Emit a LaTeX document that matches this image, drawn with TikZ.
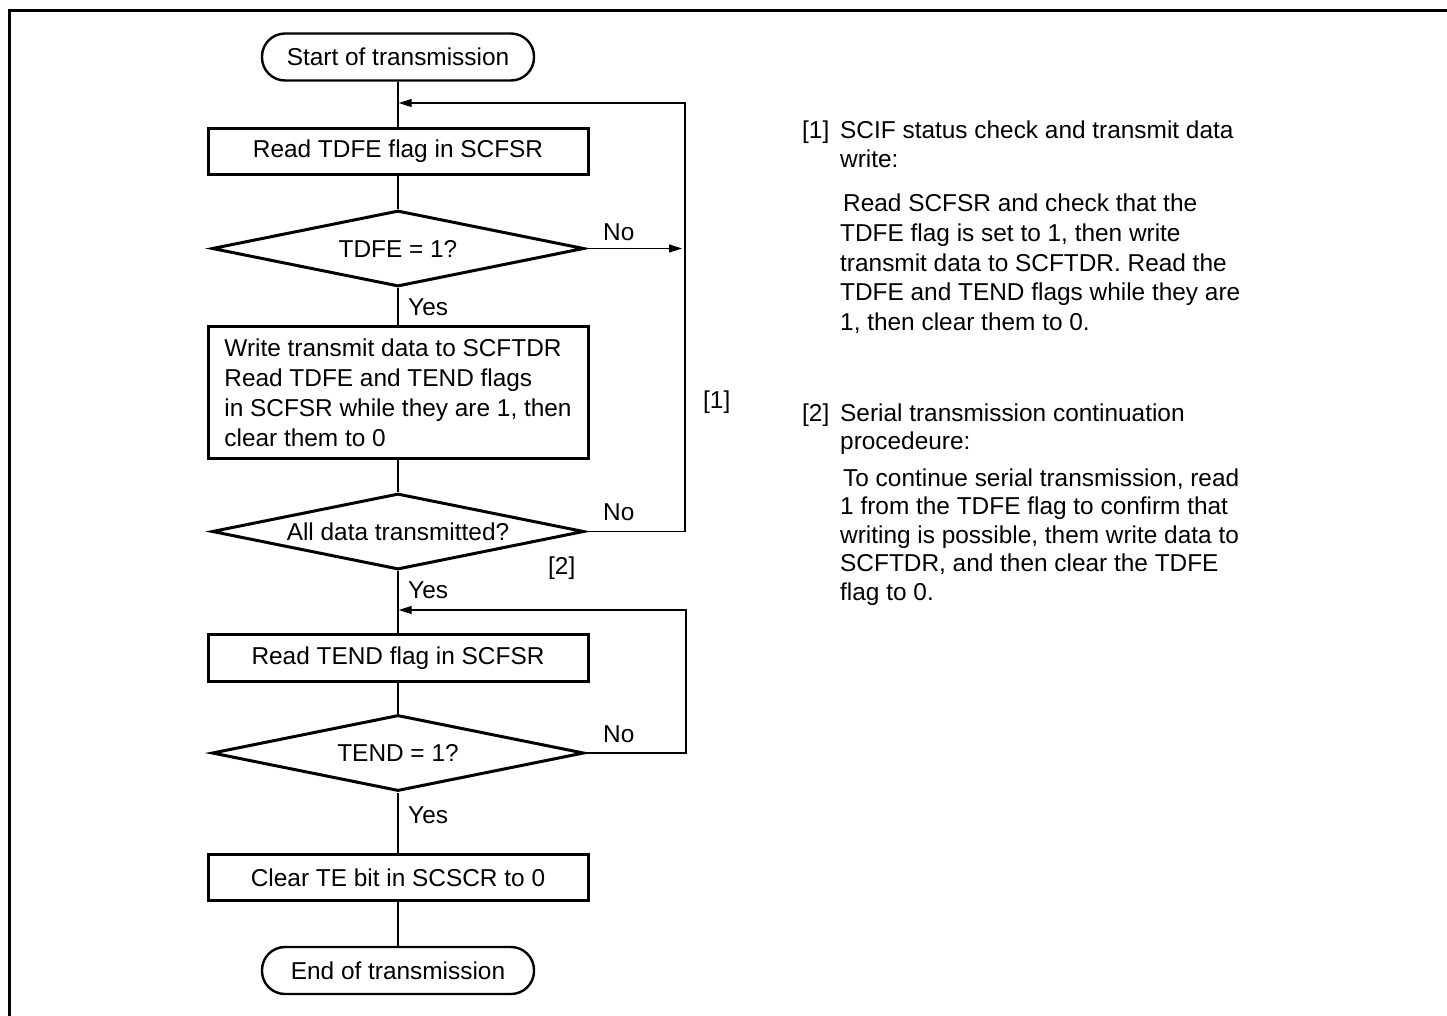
\documentclass[tikz,border=0pt]{standalone}
\usepackage{fontspec}
\setmainfont{Liberation Sans}
\usetikzlibrary{arrows.meta,shapes.geometric}
\begin{document}
\begin{tikzpicture}[x=1pt,y=-1pt,
  font=\fontsize{24.4}{29.3}\selectfont,
  term/.style={draw, line width=2.4pt, rounded corners=23pt, minimum width=272pt, minimum height=47pt, inner sep=0pt},
  proc/.style={draw, line width=3pt, minimum width=380pt, inner sep=0pt},
  dec/.style={draw, diamond, shape aspect=4.87, line width=3pt, minimum width=372pt, minimum height=76pt, inner sep=0pt, miter limit=10},
  conn/.style={line width=1.4pt},
  arr/.style={conn, -{Triangle[length=13pt,width=8pt]}},
  lab/.style={inner sep=0pt, anchor=base west}]
\useasboundingbox (0,0) rectangle (1447,1015);
% frame
\draw[line width=3pt, line join=miter] (9.5,1016) -- (9.5,10.8) -- (1448,10.8);
% flowchart nodes
\node[term] (start) at (398,57) {Start of transmission};
\node[proc, minimum height=46pt] (rd1) at (398,151.5) {Read TDFE flag in SCFSR};
\node[dec] (d1) at (398,248.5) {TDFE = 1?};
\node[proc, minimum height=132pt, align=left, font=\fontsize{24.4}{30}\selectfont] (wr) at (398,392.5)
  {Write transmit data to SCFTDR\\Read TDFE and TEND flags\\in SCFSR while they are 1, then\\clear them to 0};
\node[dec] (d2) at (398,531.5) {All data transmitted?};
\node[proc, minimum height=47pt] (rd2) at (398,658) {Read TEND flag in SCFSR};
\node[dec] (d3) at (398,753) {TEND = 1?};
\node[proc, minimum height=46pt] (clr) at (398,877.5) {Clear TE bit in SCSCR to 0};
\node[term] (end) at (398,970.5) {End of transmission};
% helper coordinates
\coordinate (j1) at (398.7,103);
\coordinate (r1) at (685,103);
\coordinate (n1) at (682,248.5);
\coordinate (j2) at (398.7,610);
\coordinate (r2) at (686,610);
% connectors
\draw[conn] (start) -- (rd1);
\draw[conn] (rd1) -- (d1);
\draw[conn] (d1) -- (wr);
\draw[conn] (wr) -- (d2);
\draw[conn] (d2) -- (rd2);
\draw[conn] (rd2) -- (d3);
\draw[conn] (d3) -- (clr);
\draw[conn] (clr) -- (end);
\draw[arr] (d1.east) -- (n1);
\draw[arr] (d2.east) -- (d2.east -| r1) -- (r1) -- (j1);
\draw[arr] (d3.east) -- (d3.east -| r2) -- (r2) -- (j2);
% labels
\node[lab] (no1) at (603,240.7) {No};
\node[lab] (no2) at (603,520.7) {No};
\node[lab] (no3) at (603,742.7) {No};
\node[lab] (yes1) at (408,315.7) {Yes};
\node[lab] (yes2) at (408,598.7) {Yes};
\node[lab] (yes3) at (408,823.7) {Yes};
\node[lab] (tag2) at (548,574) {[2]};
\node[lab] (tag1) at (703,408) {[1]};
% right-hand notes
\node[lab] (n1a) at (802,138) {[1]};
\node[lab] (n1b) at (840,138) {SCIF status check and transmit data};
\node[lab] (n1c) at (840,167) {write:};
\node[lab] (n1d) at (843,211) {Read SCFSR and check that the};
\node[lab] (n1e) at (840,241) {TDFE flag is set to 1, then write};
\node[lab] (n1f) at (840,271) {transmit data to SCFTDR. Read the};
\node[lab] (n1g) at (840,300) {TDFE and TEND flags while they are};
\node[lab] (n1h) at (840,330) {1, then clear them to 0.};
\node[lab] (n2a) at (802,421) {[2]};
\node[lab] (n2b) at (840,421) {Serial transmission continuation};
\node[lab] (n2c) at (840,449) {procedeure:};
\node[lab] (n2d) at (843,486) {To continue serial transmission, read};
\node[lab] (n2e) at (840,514.5) {1 from the TDFE flag to confirm that};
\node[lab] (n2f) at (840,543) {writing is possible, them write data to};
\node[lab] (n2g) at (840,571.5) {SCFTDR, and then clear the TDFE};
\node[lab] (n2h) at (840,600) {flag to 0.};
\end{tikzpicture}
\end{document}
